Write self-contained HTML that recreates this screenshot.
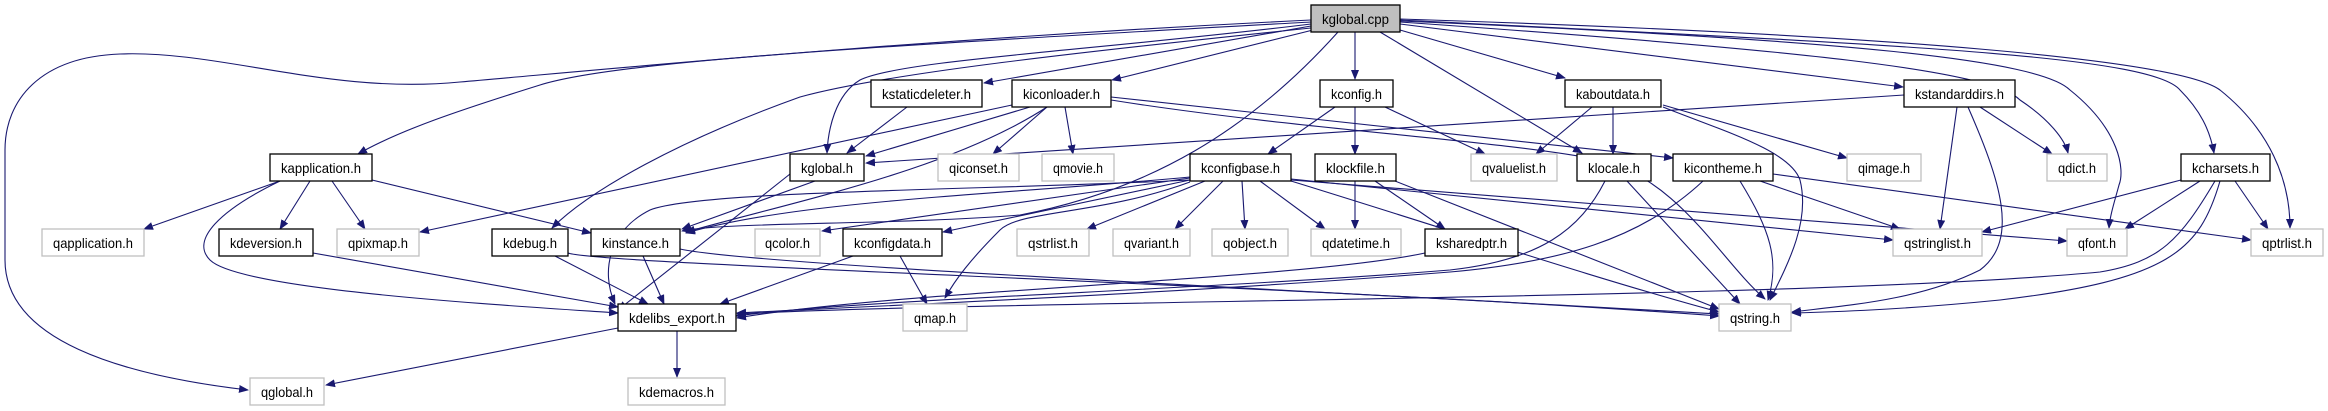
<!DOCTYPE html>
<html><head><meta charset="utf-8"><style>
html,body{margin:0;padding:0;background:#fff;width:2328px;height:411px;overflow:hidden}
svg{display:block}
.e{fill:none;stroke:#191970;stroke-width:1.1}
.b{fill:#fff;stroke:#000;stroke-width:1.3}
.g{fill:#fff;stroke:#bfbfbf;stroke-width:1.3}
text{font-family:"Liberation Sans",sans-serif;font-size:14px;fill:#000}
</style></head><body>
<svg width="2328" height="411" viewBox="0 0 2328 411">
<defs><marker id="a" markerWidth="10" markerHeight="8" refX="9" refY="4" orient="auto" markerUnits="userSpaceOnUse"><path d="M0,0 L10,4 L0,8 z" fill="#191970"/></marker></defs>
<g class="e" marker-end="url(#a)">
<path d="M1311,20 C900,40 600,70 460,82 C330,95 220,50 120,54 C40,57 5,100 5,150 L5,260 C5,340 120,375 248,390"/>
<path d="M1311,22 C900,45 620,60 540,85 C460,110 400,130 358,154"/>
<path d="M1311,24 C1100,50 900,60 860,80 C835,95 828,130 827,153"/>
<path d="M1311,26 L984,83"/>
<path d="M1313,30 L1112,80"/>
<path d="M1311,28 C1050,55 880,75 800,97 C680,140 590,190 552,228"/>
<path d="M1338,32 C1250,130 1150,190 1020,215 C900,225 720,222 682,231"/>
<path d="M1355,32 L1355,79"/>
<path d="M1380,32 L1582,153"/>
<path d="M1400,30 L1565,78"/>
<path d="M1400,24 L1903,87"/>
<path d="M1400,22 C1800,50 1990,70 2020,100 C2050,120 2065,140 2068,153"/>
<path d="M1400,20 C1900,45 2150,55 2180,90 C2200,110 2210,130 2214,153"/>
<path d="M1400,21 C1850,40 2040,60 2070,90 C2120,130 2125,170 2119,185 C2115,200 2110,215 2109,228"/>
<path d="M1400,19 C1900,35 2180,60 2220,90 C2270,130 2290,180 2290,228"/>
<path d="M907,107 L847,153"/>
<path d="M1030,107 L866,156"/>
<path d="M1012,105 L420,232"/>
<path d="M1047,107 C950,170 800,200 686,232"/>
<path d="M1047,107 L993,154"/>
<path d="M1065,107 L1073,154"/>
<path d="M1111,97 L1673,158"/>
<path d="M1111,100 C1300,130 1500,140 1600,160 C1680,180 1720,260 1765,299"/>
<path d="M1904,95 L866,163"/>
<path d="M1335,107 L1268,154"/>
<path d="M1355,107 L1355,154"/>
<path d="M1385,107 L1485,154"/>
<path d="M1592,107 L1536,154"/>
<path d="M1613,107 L1613,154"/>
<path d="M1663,105 L1847,158"/>
<path d="M1663,107 C1720,130 1790,150 1800,180 C1810,220 1790,260 1770,300"/>
<path d="M1957,107 L1940,229"/>
<path d="M1980,107 L2052,154"/>
<path d="M1968,107 C2000,180 2020,240 1980,270 C1920,300 1850,305 1792,312"/>
<path d="M1605,181 C1580,230 1540,260 1450,270 C1200,290 850,300 736,316"/>
<path d="M1627,181 L1740,304"/>
<path d="M1703,181 C1640,240 1560,262 1450,272 C1200,292 900,305 737,313"/>
<path d="M1740,181 C1770,230 1780,260 1768,300"/>
<path d="M1760,181 L1900,229"/>
<path d="M1773,174 L2251,240"/>
<path d="M2181,180 L1982,232"/>
<path d="M2200,181 L2125,229"/>
<path d="M2235,181 L2268,229"/>
<path d="M2215,181 C2180,240 2160,262 2100,272 C1800,300 1000,300 737,314"/>
<path d="M2220,181 C2200,250 2170,280 2000,300 C1900,310 1830,312 1792,313"/>
<path d="M1190,178 L822,231"/>
<path d="M1190,180 L943,232"/>
<path d="M1190,177 C1000,195 800,200 686,233"/>
<path d="M1190,180 C1000,190 700,190 650,210 C610,230 600,270 615,304"/>
<path d="M1190,182 C1100,215 1020,210 1000,230 C970,260 955,280 945,298"/>
<path d="M1205,181 L1087,229"/>
<path d="M1223,181 L1175,229"/>
<path d="M1242,181 L1245,229"/>
<path d="M1260,181 L1325,229"/>
<path d="M1291,180 L2067,241"/>
<path d="M1291,181 C1450,230 1600,280 1719,312"/>
<path d="M1291,179 L1893,240"/>
<path d="M1355,181 L1355,229"/>
<path d="M1375,181 L1445,229"/>
<path d="M1395,181 L1719,309"/>
<path d="M1425,253 C1300,280 900,290 737,318"/>
<path d="M900,256 L927,304"/>
<path d="M853,256 L720,304"/>
<path d="M280,181 L144,229"/>
<path d="M310,181 L280,229"/>
<path d="M332,181 L365,229"/>
<path d="M372,180 L591,233"/>
<path d="M280,181 C220,210 190,240 210,260 C240,290 500,305 618,313"/>
<path d="M313,253 L618,307"/>
<path d="M555,256 L648,304"/>
<path d="M568,253 C600,265 1300,285 1719,316"/>
<path d="M643,256 L664,304"/>
<path d="M680,249 C750,265 1300,290 1719,314"/>
<path d="M790,174 L618,310"/>
<path d="M815,181 L682,229"/>
<path d="M618,328 L326,385"/>
<path d="M677,331 L677,377"/>
</g>
<g>
<rect x="1311" y="5" width="89" height="27" fill="#bfbfbf" stroke="#000" stroke-width="1.3"/><text x="1355.5" y="24" text-anchor="middle" textLength="67" lengthAdjust="spacingAndGlyphs">kglobal.cpp</text>
</g>
<g id="n"></g>
<rect class="b" x="871" y="80" width="111" height="27"/><text x="926.5" y="99" text-anchor="middle" textLength="89" lengthAdjust="spacingAndGlyphs">kstaticdeleter.h</text>
<rect class="b" x="1012" y="80" width="99" height="27"/><text x="1061.5" y="99" text-anchor="middle" textLength="77" lengthAdjust="spacingAndGlyphs">kiconloader.h</text>
<rect class="b" x="1320" y="80" width="73" height="27"/><text x="1356.5" y="99" text-anchor="middle" textLength="51" lengthAdjust="spacingAndGlyphs">kconfig.h</text>
<rect class="b" x="1565" y="80" width="96" height="27"/><text x="1613" y="99" text-anchor="middle" textLength="74" lengthAdjust="spacingAndGlyphs">kaboutdata.h</text>
<rect class="b" x="1904" y="80" width="111" height="27"/><text x="1959.5" y="99" text-anchor="middle" textLength="89" lengthAdjust="spacingAndGlyphs">kstandarddirs.h</text>
<rect class="b" x="270" y="154" width="102" height="27"/><text x="321" y="173" text-anchor="middle" textLength="80" lengthAdjust="spacingAndGlyphs">kapplication.h</text>
<rect class="b" x="790" y="154" width="74" height="27"/><text x="827" y="173" text-anchor="middle" textLength="52" lengthAdjust="spacingAndGlyphs">kglobal.h</text>
<rect class="g" x="938" y="154" width="81" height="27"/><text x="978.5" y="173" text-anchor="middle" textLength="59" lengthAdjust="spacingAndGlyphs">qiconset.h</text>
<rect class="g" x="1042" y="154" width="72" height="27"/><text x="1078" y="173" text-anchor="middle" textLength="50" lengthAdjust="spacingAndGlyphs">qmovie.h</text>
<rect class="b" x="1190" y="154" width="101" height="27"/><text x="1240.5" y="173" text-anchor="middle" textLength="79" lengthAdjust="spacingAndGlyphs">kconfigbase.h</text>
<rect class="b" x="1315" y="154" width="81" height="27"/><text x="1355.5" y="173" text-anchor="middle" textLength="59" lengthAdjust="spacingAndGlyphs">klockfile.h</text>
<rect class="g" x="1471" y="154" width="86" height="27"/><text x="1514" y="173" text-anchor="middle" textLength="64" lengthAdjust="spacingAndGlyphs">qvaluelist.h</text>
<rect class="b" x="1577" y="154" width="74" height="27"/><text x="1614" y="173" text-anchor="middle" textLength="52" lengthAdjust="spacingAndGlyphs">klocale.h</text>
<rect class="b" x="1673" y="154" width="100" height="27"/><text x="1723" y="173" text-anchor="middle" textLength="78" lengthAdjust="spacingAndGlyphs">kicontheme.h</text>
<rect class="g" x="1847" y="154" width="74" height="27"/><text x="1884" y="173" text-anchor="middle" textLength="52" lengthAdjust="spacingAndGlyphs">qimage.h</text>
<rect class="g" x="2047" y="154" width="60" height="27"/><text x="2077" y="173" text-anchor="middle" textLength="38" lengthAdjust="spacingAndGlyphs">qdict.h</text>
<rect class="b" x="2181" y="154" width="89" height="27"/><text x="2225.5" y="173" text-anchor="middle" textLength="67" lengthAdjust="spacingAndGlyphs">kcharsets.h</text>
<rect class="g" x="42" y="229" width="102" height="27"/><text x="93" y="248" text-anchor="middle" textLength="80" lengthAdjust="spacingAndGlyphs">qapplication.h</text>
<rect class="b" x="219" y="229" width="94" height="27"/><text x="266" y="248" text-anchor="middle" textLength="72" lengthAdjust="spacingAndGlyphs">kdeversion.h</text>
<rect class="g" x="337" y="229" width="82" height="27"/><text x="378" y="248" text-anchor="middle" textLength="60" lengthAdjust="spacingAndGlyphs">qpixmap.h</text>
<rect class="b" x="492" y="229" width="76" height="27"/><text x="530" y="248" text-anchor="middle" textLength="54" lengthAdjust="spacingAndGlyphs">kdebug.h</text>
<rect class="b" x="591" y="229" width="89" height="27"/><text x="635.5" y="248" text-anchor="middle" textLength="67" lengthAdjust="spacingAndGlyphs">kinstance.h</text>
<rect class="g" x="755" y="229" width="65" height="27"/><text x="787.5" y="248" text-anchor="middle" textLength="45" lengthAdjust="spacingAndGlyphs">qcolor.h</text>
<rect class="b" x="843" y="229" width="99" height="27"/><text x="892.5" y="248" text-anchor="middle" textLength="77" lengthAdjust="spacingAndGlyphs">kconfigdata.h</text>
<rect class="g" x="1017" y="229" width="72" height="27"/><text x="1053" y="248" text-anchor="middle" textLength="50" lengthAdjust="spacingAndGlyphs">qstrlist.h</text>
<rect class="g" x="1113" y="229" width="77" height="27"/><text x="1151.5" y="248" text-anchor="middle" textLength="55" lengthAdjust="spacingAndGlyphs">qvariant.h</text>
<rect class="g" x="1212" y="229" width="76" height="27"/><text x="1250" y="248" text-anchor="middle" textLength="54" lengthAdjust="spacingAndGlyphs">qobject.h</text>
<rect class="g" x="1311" y="229" width="90" height="27"/><text x="1356" y="248" text-anchor="middle" textLength="68" lengthAdjust="spacingAndGlyphs">qdatetime.h</text>
<rect class="b" x="1425" y="229" width="93" height="27"/><text x="1471.5" y="248" text-anchor="middle" textLength="71" lengthAdjust="spacingAndGlyphs">ksharedptr.h</text>
<rect class="g" x="1893" y="229" width="89" height="27"/><text x="1937.5" y="248" text-anchor="middle" textLength="67" lengthAdjust="spacingAndGlyphs">qstringlist.h</text>
<rect class="g" x="2067" y="229" width="60" height="27"/><text x="2097" y="248" text-anchor="middle" textLength="38" lengthAdjust="spacingAndGlyphs">qfont.h</text>
<rect class="g" x="2251" y="229" width="72" height="27"/><text x="2287" y="248" text-anchor="middle" textLength="50" lengthAdjust="spacingAndGlyphs">qptrlist.h</text>
<rect class="b" x="618" y="304" width="118" height="27"/><text x="677" y="323" text-anchor="middle" textLength="96" lengthAdjust="spacingAndGlyphs">kdelibs_export.h</text>
<rect class="g" x="903" y="304" width="64" height="27"/><text x="935" y="323" text-anchor="middle" textLength="42" lengthAdjust="spacingAndGlyphs">qmap.h</text>
<rect class="g" x="1719" y="304" width="72" height="27"/><text x="1755" y="323" text-anchor="middle" textLength="50" lengthAdjust="spacingAndGlyphs">qstring.h</text>
<rect class="g" x="250" y="378" width="74" height="27"/><text x="287" y="397" text-anchor="middle" textLength="52" lengthAdjust="spacingAndGlyphs">qglobal.h</text>
<rect class="g" x="628" y="378" width="97" height="27"/><text x="676.5" y="397" text-anchor="middle" textLength="75" lengthAdjust="spacingAndGlyphs">kdemacros.h</text>
</svg>
</body></html>
